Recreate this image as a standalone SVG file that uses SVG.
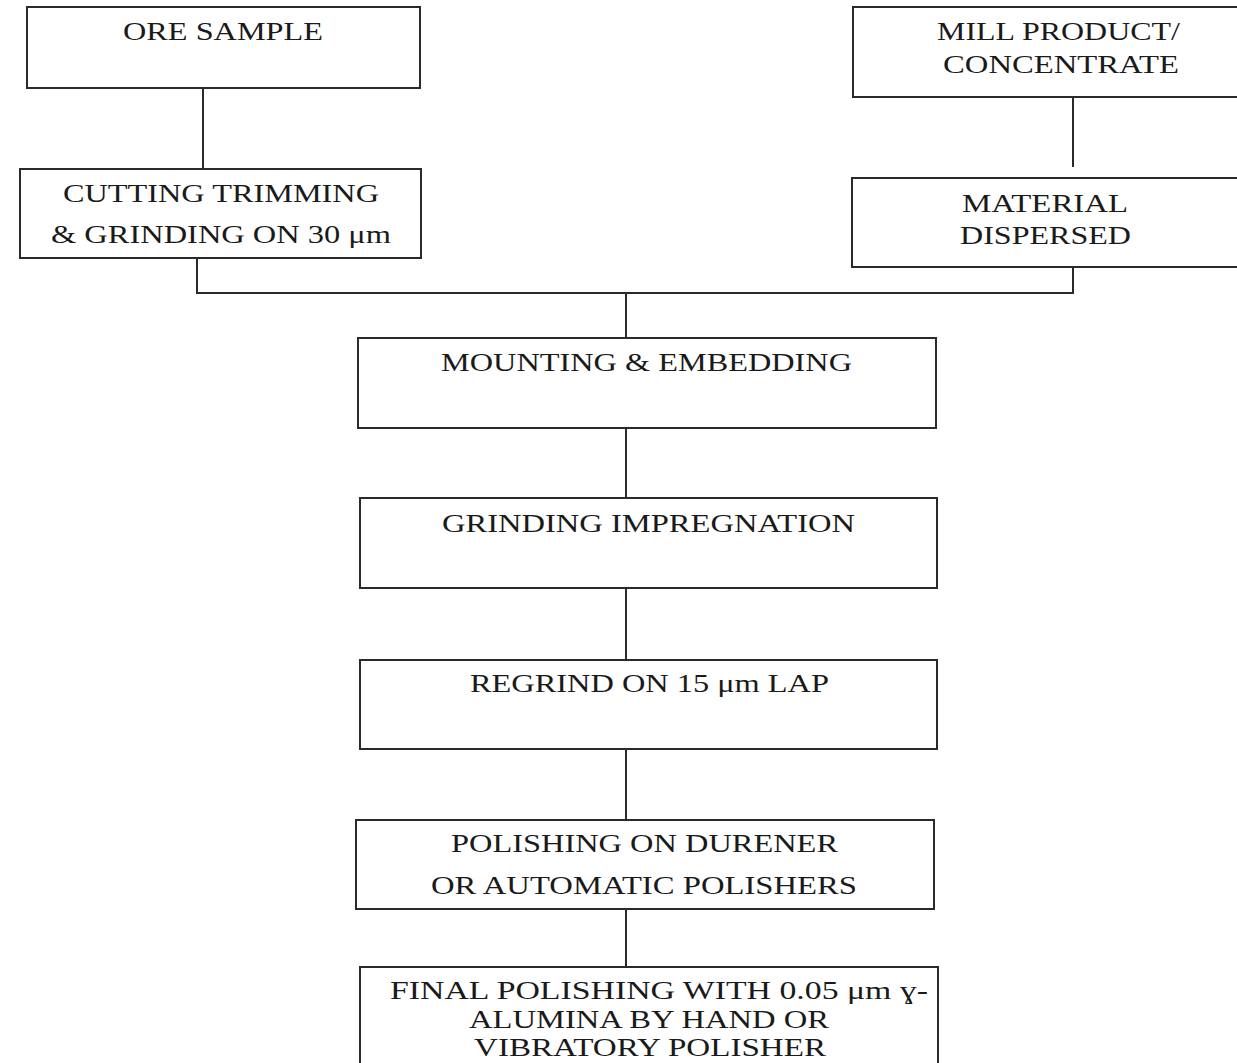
<svg xmlns="http://www.w3.org/2000/svg" width="1237" height="1063" viewBox="0 0 1237 1063">
<style>
.box{fill:#fff;stroke:#2a2a2a;stroke-width:2}
.con{fill:none;stroke:#2a2a2a;stroke-width:2}
text{font-family:"Liberation Serif","Times New Roman",serif;font-size:25px;fill:#1a1a1a}
</style>
<rect width="1237" height="1063" fill="#fff"/>
<g id="connectors">
<line class="con" x1="203" y1="88" x2="203" y2="169"/>
<line class="con" x1="1073" y1="97" x2="1073" y2="167"/>
<polyline class="con" points="197,258 197,293 1073,293 1073,267"/>
<line class="con" x1="626" y1="293" x2="626" y2="338"/>
<line class="con" x1="626" y1="428" x2="626" y2="498"/>
<line class="con" x1="626" y1="588" x2="626" y2="660"/>
<line class="con" x1="626" y1="749" x2="626" y2="820"/>
<line class="con" x1="626" y1="909" x2="626" y2="967"/>
</g>
<g id="ore">
<rect class="box" x="27" y="7" width="393" height="81"/>
<text x="123" y="40" textLength="200" lengthAdjust="spacingAndGlyphs">ORE SAMPLE</text>
</g>
<g id="cutting">
<rect class="box" x="20" y="169" width="401" height="89"/>
<text x="63" y="202" textLength="316" lengthAdjust="spacingAndGlyphs">CUTTING TRIMMING</text>
<text x="51" y="243" textLength="340" lengthAdjust="spacingAndGlyphs">&amp; GRINDING ON 30 μm</text>
</g>
<g id="mill">
<rect class="box" x="853" y="7" width="390" height="90"/>
<text x="937" y="40" textLength="243" lengthAdjust="spacingAndGlyphs">MILL PRODUCT/</text>
<text x="943" y="73" textLength="236" lengthAdjust="spacingAndGlyphs">CONCENTRATE</text>
</g>
<g id="material">
<rect class="box" x="852" y="178" width="391" height="89"/>
<text x="962" y="212" textLength="166" lengthAdjust="spacingAndGlyphs">MATERIAL</text>
<text x="960" y="244" textLength="171" lengthAdjust="spacingAndGlyphs">DISPERSED</text>
</g>
<g id="mounting">
<rect class="box" x="358" y="338" width="578" height="90"/>
<text x="441" y="371" textLength="411" lengthAdjust="spacingAndGlyphs">MOUNTING &amp; EMBEDDING</text>
</g>
<g id="grinding">
<rect class="box" x="360" y="498" width="577" height="90"/>
<text x="442" y="532" textLength="413" lengthAdjust="spacingAndGlyphs">GRINDING IMPREGNATION</text>
</g>
<g id="regrind">
<rect class="box" x="360" y="660" width="577" height="89"/>
<text x="470" y="692" textLength="359" lengthAdjust="spacingAndGlyphs">REGRIND ON 15 μm LAP</text>
</g>
<g id="polishing">
<rect class="box" x="356" y="820" width="578" height="89"/>
<text x="451" y="852" textLength="387" lengthAdjust="spacingAndGlyphs">POLISHING ON DURENER</text>
<text x="431" y="894" textLength="426" lengthAdjust="spacingAndGlyphs">OR AUTOMATIC POLISHERS</text>
</g>
<g id="final">
<rect class="box" x="360" y="967" width="578" height="110"/>
<text x="390" y="999" textLength="538" lengthAdjust="spacingAndGlyphs">FINAL POLISHING WITH 0.05 μm ɣ-</text>
<text x="469" y="1028" textLength="360" lengthAdjust="spacingAndGlyphs">ALUMINA BY HAND OR</text>
<text x="474" y="1056" textLength="352" lengthAdjust="spacingAndGlyphs">VIBRATORY POLISHER</text>
</g>
</svg>
